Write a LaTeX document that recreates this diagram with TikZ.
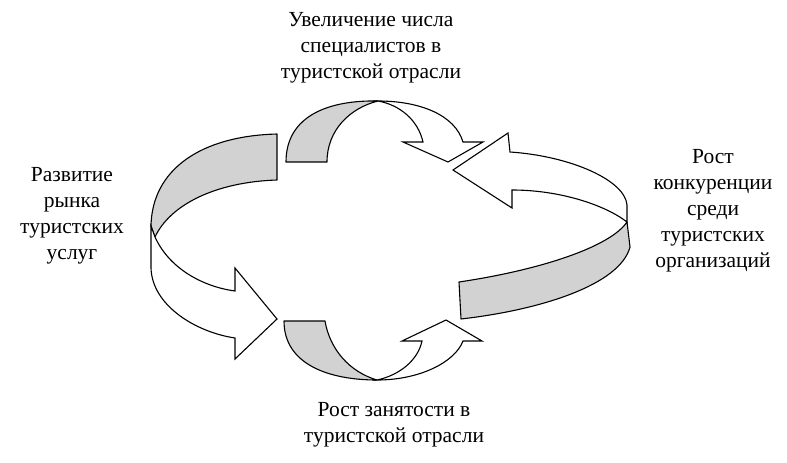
\documentclass[tikz,border=0pt]{standalone}
\usepackage{fontspec}
\setmainfont{Liberation Serif}
\definecolor{ribbongray}{RGB}{210,210,210}
\tikzset{
  back/.style={draw=black, line width=1.1pt, fill=ribbongray, line join=round},
  front/.style={draw=black, line width=1.1pt, fill=white, line join=miter},
  lbl/.style={align=center, inner sep=0pt, font=\fontsize{21.5}{26}\selectfont}
}
\begin{document}
\begin{tikzpicture}[x=1pt,y=-1pt]
\useasboundingbox (0,0) rectangle (787,463);
% left arrow
\path[back] (277,134) .. controls (200,136) and (152,170) .. (151,226)
  -- (155,237) .. controls (170,205) and (215,182) .. (277,180) -- cycle;
\path[front] (155,237) .. controls (170,270) and (205,287) .. (235,291)
  -- (235,268) -- (277,319) -- (235,359) -- (235,338)
  .. controls (195,332) and (152,305) .. (151,268) -- (151,226) -- cycle;
% top arrow
\path[back] (286,162) .. controls (286,115) and (330,100) .. (378,101)
  .. controls (350,108) and (327,130) .. (327,162) -- cycle;
\path[front] (378,101) .. controls (420,101) and (455,115) .. (463,142)
  -- (483,142) -- (448,162) -- (403,142) -- (423,142)
  .. controls (418,120) and (400,105) .. (378,101) -- cycle;
% bottom arrow
\path[back] (284,321) .. controls (284,365) and (330,380) .. (377,380)
  .. controls (350,372) and (330,350) .. (325,321) -- cycle;
\path[front] (377,380) .. controls (420,380) and (455,362) .. (463,341)
  -- (482,341) -- (446,320) -- (402,341) -- (422,341)
  .. controls (418,360) and (400,375) .. (377,380) -- cycle;
% right arrow
\path[back] (459,282) .. controls (540,270) and (610,247) .. (627,222)
  -- (630,247) .. controls (620,285) and (540,310) .. (461,319) -- cycle;
\path[front] (510,152) .. controls (570,156) and (625,180) .. (627,205)
  -- (627,222) .. controls (605,205) and (560,190) .. (512,190)
  -- (512,208) -- (453,170) -- (508,133) -- cycle;
% labels (anchor base = baseline of last line)
\node[lbl, anchor=base] (top) at (371,78) {Увеличение числа\\специалистов в\\туристской отрасли};
\node[lbl, anchor=base] (left) at (72,259) {Развитие\\рынка\\туристских\\услуг};
\node[lbl, anchor=base] (right) at (713,267) {Рост\\конкуренции\\среди\\туристских\\организаций};
\node[lbl, anchor=base] (bottom) at (394,442) {Рост занятости в\\туристской отрасли};
\end{tikzpicture}
\end{document}
